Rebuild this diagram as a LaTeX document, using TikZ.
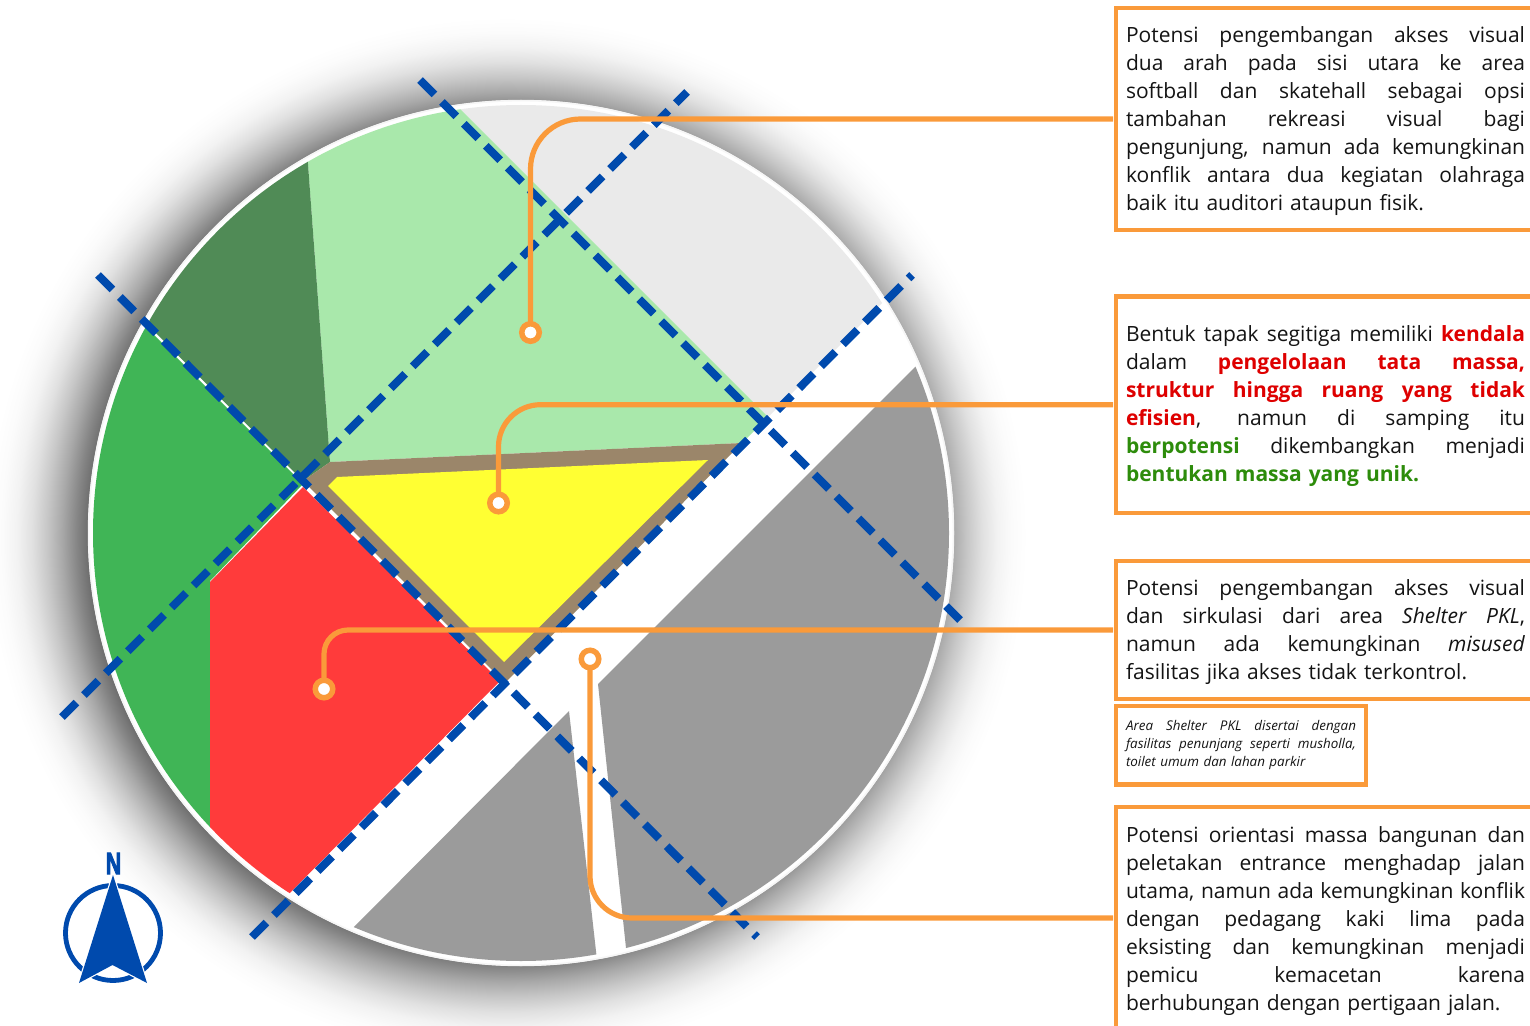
\documentclass[tikz,border=0pt]{standalone}
\usepackage{fontspec}
\setmainfont{Open Sans}
\newfontfamily\northfont[BoldFeatures={FakeBold=3.5}]{Liberation Sans}
\usetikzlibrary{calc}
\definecolor{cOrange}{HTML}{FA9A3A}
\definecolor{cBlue}{HTML}{004AAD}
\definecolor{cLGreen}{HTML}{A9E8AB}
\definecolor{cDGreen}{HTML}{508B56}
\definecolor{cGreen}{HTML}{40B556}
\definecolor{cRed}{HTML}{FF3B3B}
\definecolor{cYellow}{HTML}{FFFF33}
\definecolor{cBrown}{HTML}{9B866A}
\definecolor{cGray}{HTML}{9B9B9B}
\definecolor{cLGray}{HTML}{EAEAEA}
\definecolor{tRed}{HTML}{DE0000}
\definecolor{tGreen}{HTML}{2D8C0B}
\definecolor{tBlack}{HTML}{141414}
\pgfdeclareradialshading{discshadow}{\pgfpoint{0bp}{0bp}}{%
 color(0bp)=(black!60!white);
 color(19.35bp)=(black!58!white);
 color(19.91bp)=(black!48!white);
 color(20.6bp)=(black!34!white);
 color(21.3bp)=(black!22!white);
 color(21.99bp)=(black!12!white);
 color(22.69bp)=(black!5!white);
 color(23.38bp)=(black!1.5!white);
 color(24.07bp)=(white);
 color(50bp)=(white)}
\newcommand{\jl}[1]{\makebox[\hsize][s]{\spaceskip=.3em plus 1fil\relax #1}}
\newcommand{\rb}[1]{\textcolor{tRed}{\textbf{#1}}}
\newcommand{\gb}[1]{\textcolor{tGreen}{\textbf{#1}}}
\newcommand{\nudge}[1]{\par\vspace{-#1pt}}
\tikzset{
  mapline/.style={cBlue,line width=4pt,dash pattern=on 10.2pt off 5.3pt},
  conn/.style={cOrange,line width=2.6pt},
  pin/.style={circle,draw=cOrange,line width=2.75pt,fill=white,minimum size=8.75pt,inner sep=0pt,outer sep=0pt},
  notebox/.style={rectangle,draw=cOrange,line width=2.25pt,fill=white,inner xsep=5pt,inner ysep=0pt,outer sep=0pt,
     text=tBlack,align=left,text width=199.5pt,font=\fontsize{10.5}{14}\selectfont},
  smallbox/.style={notebox,text width=115pt,font=\fontsize{6.7}{9}\selectfont\itshape},
}
\begin{document}
\begin{tikzpicture}[x=0.5pt,y=-0.5pt]
\useasboundingbox (0,0) rectangle (1530,1026);
% shadow and disc
\begin{scope}
\clip (0,0) rectangle (1112,1026);
\shade[shading=discshadow] (507,537) circle (270pt);
\end{scope}
\fill[white] (521,533) circle (216.5pt);
\draw[white!93!gray,line width=.8pt] (521,533) circle (216.2pt);
\begin{scope}
\clip (521,533) circle (214pt);
\fill[cLGray] (451,100) -- (768,417) -- (915,270) -- (700,50) -- cycle;
\fill[cLGreen] (304,110) -- (330,462) -- (742,443) -- (768,417) -- (451,100) -- (400,60) -- cycle;
\fill[cDGreen] (304,110) -- (330,462) -- (303,481) -- (130,307) -- (100,100) -- cycle;
\fill[cGreen] (130,311) -- (303,484) -- (210,581) -- (210,840) -- (60,840) -- (60,311) -- cycle;
\fill[cRed] (210,582) -- (303,487) -- (500,681) -- (270,913) -- (210,913) -- cycle;
\fill[cBrown] (330,462) -- (742,443) -- (505,683) -- (303,481) -- cycle;
\fill[cYellow] (337,477) -- (708,460) -- (504,662) -- (328,486) -- cycle;
\fill[cGray] (940,342) -- (598,684) -- (626,948) -- (700,1000) -- (1000,700) -- (1000,400) -- cycle;
\fill[cGray] (569,711) -- (597,960) -- (597,1000) -- (340,1000) -- (340,941) -- cycle;
\end{scope}
% dashed lines
\coordinate (a1) at (420,80); \coordinate (a2) at (960,620);
\coordinate (b1) at (62,717); \coordinate (b2) at (687,92);
\coordinate (c1) at (98,275); \coordinate (c2) at (757,937);
\coordinate (d1) at (252,937); \coordinate (d2) at (912,275);
\draw[mapline] (a1) -- (a2);
\draw[mapline] (b1) -- (b2);
\draw[mapline] (c1) -- (c2);
\draw[mapline] (d1) -- (d2);
% boxes
\node[notebox,minimum height=110.85pt] (box1) at (1325.5,119) {%
\jl{Potensi pengembangan akses visual}\\
\jl{dua arah pada sisi utara ke area}\\
\jl{softball dan skatehall sebagai opsi}\\
\jl{tambahan rekreasi visual bagi}\\
\jl{pengunjung, namun ada kemungkinan}\\
\jl{konflik antara dua kegiatan olahraga}\\
baik itu auditori ataupun fisik.\nudge{2}};
\node[notebox,minimum height=108.25pt] (box2) at (1325.5,404.7) {%
\jl{Bentuk tapak segitiga memiliki \rb{kendala}}\\
\jl{dalam \rb{pengelolaan} \rb{tata} \rb{massa,}}\\
\jl{\rb{struktur} \rb{hingga} \rb{ruang} \rb{yang} \rb{tidak}}\\
\jl{\rb{efisien}, namun di samping itu}\\
\jl{\gb{berpotensi} dikembangkan menjadi}\\
\gb{bentukan massa yang unik.}\nudge{1}};
\node[notebox,minimum height=69.15pt] (box3) at (1325.5,630) {%
\jl{Potensi pengembangan akses visual}\\
\jl{dan sirkulasi dari area \textit{Shelter} \textit{PKL},}\\
\jl{namun ada kemungkinan \textit{misused}}\\
fasilitas jika akses tidak terkontrol.\nudge{2}};
\node[smallbox,minimum height=39.35pt] (box4) at (1241,745.3) {%
\jl{Area Shelter PKL disertai dengan}\\
\jl{fasilitas penunjang seperti musholla,}\\
toilet umum dan lahan parkir};
\node[notebox,minimum height=111pt] (box5) at (1325.5,918) {%
\jl{Potensi orientasi massa bangunan dan}\\
\jl{peletakan entrance menghadap jalan}\\
\jl{utama, namun ada kemungkinan konflik}\\
\jl{dengan pedagang kaki lima pada}\\
\jl{eksisting dan kemungkinan menjadi}\\
\jl{pemicu kemacetan karena}\\
berhubungan dengan pertigaan jalan.\nudge{3}};
% pins and connectors
\node[pin] (m1) at (530.5,332.5) {};
\node[pin] (m2) at (498.5,503) {};
\node[pin] (m3) at (324,689) {};
\node[pin] (m4) at (590,659) {};
\draw[conn,rounded corners=25pt,shorten >=1.5pt] (m1.north) |- (box1.west);
\draw[conn,rounded corners=21pt,shorten >=1.5pt] (m2.north) |- (box2.west);
\draw[conn,rounded corners=12pt,shorten >=1.5pt] (m3.north) |- (box3.west);
\draw[conn,rounded corners=21pt,shorten >=1.5pt] (m4.south) |- (box5.west);
% north arrow
\draw[cBlue,line width=2.4pt] (113,933) circle (23.75pt);
\filldraw[fill=cBlue,draw=white,line width=1.2pt,line join=miter] (113,875) -- (147,983) -- (112.5,965) -- (79,983) -- cycle;
\fill[cBlue] (113,875) -- (147,983) -- (112.5,965) -- (79,983) -- cycle;
\node[inner sep=0pt,outer sep=0pt,text=cBlue,xscale=.7,font=\fontsize{15.4}{16}\selectfont\northfont\bfseries] (north) at (113.5,863.5) {N};
\end{tikzpicture}
\end{document}
